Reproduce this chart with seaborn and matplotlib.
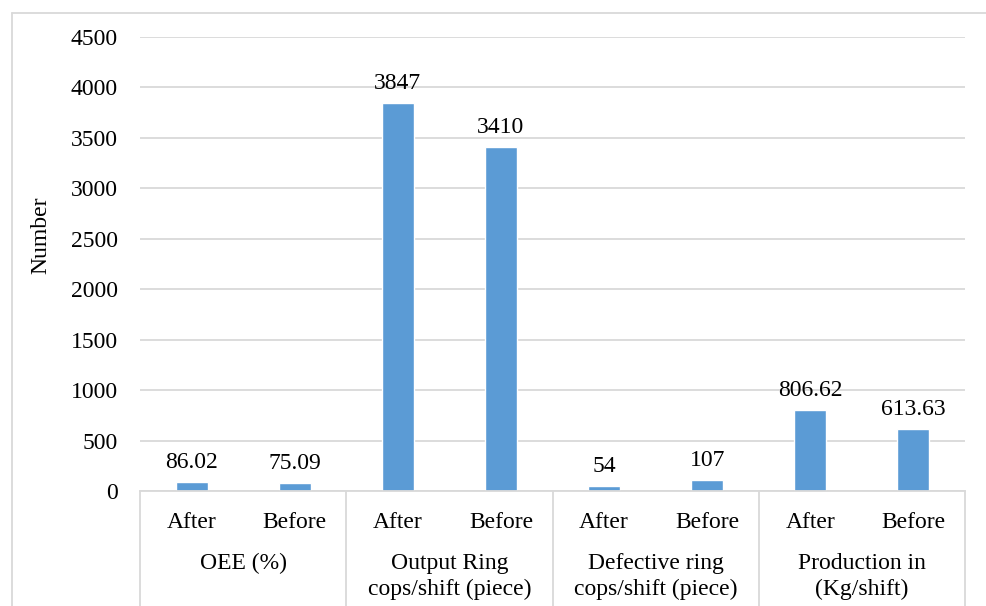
import matplotlib
matplotlib.use("Agg")
import matplotlib.pyplot as plt
import matplotlib.transforms as mtransforms
from matplotlib.lines import Line2D
import seaborn as sns
import pandas as pd

# Measured indicators, after vs. before the improvement
groups = ["OEE (%)", "Output Ring\ncops/shift (piece)",
          "Defective ring\ncops/shift (piece)", "Production in\n(Kg/shift)"]
phases = ["After", "Before"]
after_values = [86.02, 3847, 54, 806.62]
before_values = [75.09, 3410, 107, 613.63]
y_ticks = [0, 500, 1000, 1500, 2000, 2500, 3000, 3500, 4000, 4500]

rows = []
for g, a, b in zip(groups, after_values, before_values):
    rows.append({"group": g, "phase": "After", "slot": g + "|After", "value": a})
    rows.append({"group": g, "phase": "Before", "slot": g + "|Before", "value": b})
df = pd.DataFrame(rows)

sns.set_theme(style="white")
plt.rcParams["font.family"] = ["Liberation Serif", "DejaVu Serif"]

W, H = 986, 606
fig = plt.figure(figsize=(W / 100, H / 100), dpi=100)
fig.patch.set_facecolor("white")

left, right, top, bottom = 140, 965, 37, 491
ax = fig.add_axes([left / W, 1 - bottom / H, (right - left) / W, (bottom - top) / H])

bar_color = "#5B9BD5"
grid_color = "#D9D9D9"
fs = 17

sns.barplot(data=df, x="slot", y="value", color=bar_color, saturation=1,
            width=0.31, ax=ax, errorbar=None)

ax.set_ylim(0, 4500)
ax.set_xlim(-0.5, len(df) - 0.5)
ax.set_yticks(y_ticks)
ax.set_yticklabels([str(t) for t in y_ticks], fontsize=fs, color="#000000")
ax.tick_params(axis="y", length=0, pad=16)
ax.tick_params(axis="x", length=0, pad=15)
ax.set_xticks(range(len(df)))
ax.set_xticklabels(df["phase"], fontsize=fs, color="#000000")
ax.set_xlabel("")
ax.set_ylabel("")

ax.yaxis.grid(True, color=grid_color, linewidth=1.3)
ax.set_axisbelow(True)
for side in ["left", "right", "top"]:
    ax.spines[side].set_visible(False)
ax.spines["bottom"].set_color(grid_color)
ax.spines["bottom"].set_linewidth(1.3)

# value labels above each bar
ax.bar_label(ax.containers[0], labels=[f"{v:g}" for v in df["value"]],
             padding=6.5, fontsize=fs, color="#000000")

# group labels and separators below the axis
trans = mtransforms.blended_transform_factory(ax.transData, ax.transAxes)
ax_h = bottom - top
y_group = -(553 - bottom) / ax_h
y_end = -(H - bottom) / ax_h
for i, g in enumerate(groups):
    ax.text(2 * i + 0.5, y_group, g, transform=trans, ha="center", va="top",
            fontsize=fs, linespacing=1.32, color="#000000")
for k in range(len(groups) + 1):
    ax.add_line(Line2D([2 * k - 0.5, 2 * k - 0.5], [0, y_end], transform=trans,
                       color=grid_color, linewidth=1.3, clip_on=False))

fig.text(41 / W, 1 - 235 / H, "Number", rotation=90, ha="center", va="center",
         fontsize=fs, color="#000000")

# chart-area frame
fig.add_artist(Line2D([12 / W, 1], [1 - 13 / H, 1 - 13 / H], transform=fig.transFigure,
                      color=grid_color, linewidth=1.3))
fig.add_artist(Line2D([12 / W, 12 / W], [0, 1 - 13 / H], transform=fig.transFigure,
                      color=grid_color, linewidth=1.3))

fig.savefig("out.png", dpi=100, facecolor="white")
